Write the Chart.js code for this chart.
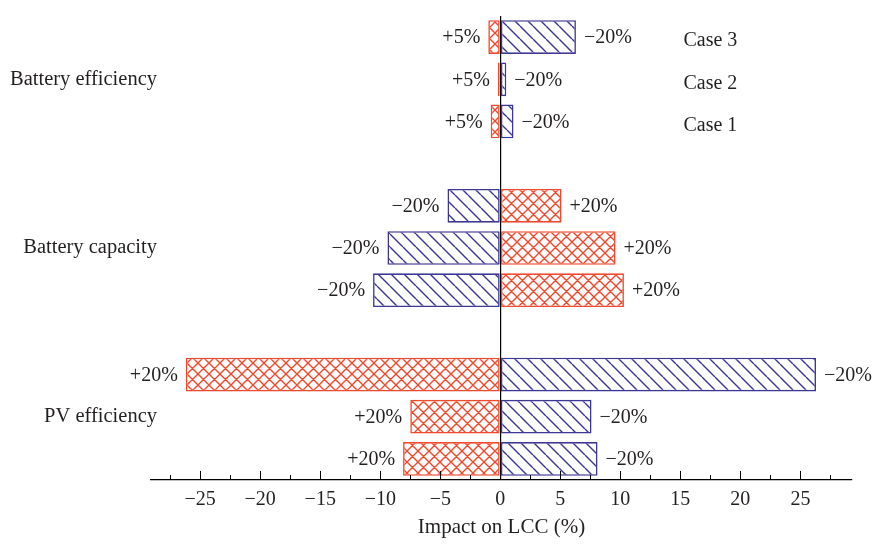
<!DOCTYPE html>
<html>
<head>
<meta charset="utf-8">
<script src="https://cdn.jsdelivr.net/npm/chart.js@4/dist/chart.umd.min.js"></script>
<style>
  html, body { margin: 0; padding: 0; background: #fff; }
  #wrap { width: 872px; height: 544px; position: relative; }
</style>
</head>
<body>
<div id="wrap"><canvas id="c" width="872" height="544"></canvas></div>
<script>
// Rows from top to bottom; empty strings are the spacer rows between groups.
const rowLabels = ['', 'Battery efficiency', '', '', '', 'Battery capacity', '', '', '', 'PV efficiency', ''];
const caseLabels = ['Case 3', 'Case 2', 'Case 1'];

// Impact on LCC (%) when the parameter goes up (red) or down (blue).
const increaseValues = [-1.0, -0.2, -0.8, null, 5.1, 9.6, 10.3, null, -26.2, -7.5, -8.1];
const decreaseValues = [6.3, 0.5, 1.1, null, -4.4, -9.4, -10.6, null, 26.3, 7.6, 8.1];
const increaseText = ['+5%', '+5%', '+5%', null, '+20%', '+20%', '+20%', null, '+20%', '+20%', '+20%'];
const decreaseText = ['\u221220%', '\u221220%', '\u221220%', null, '\u221220%', '\u221220%', '\u221220%', null, '\u221220%', '\u221220%', '\u221220%'];

const tickValues = [-25, -20, -15, -10, -5, 0, 5, 10, 15, 20, 25];
const minorTickValues = [-27.5, -22.5, -17.5, -12.5, -7.5, -2.5, 2.5, 7.5, 12.5, 17.5, 22.5, 27.5];

const RED = '#ef4a2e';
const BLUE = '#3c3694';
const TEXT = '#231f20';
const FONT = '"Liberation Serif", "DejaVu Serif", serif';
const FS = 20;

function makePattern(color, size, cross) {
  const t = document.createElement('canvas');
  t.width = size; t.height = size;
  const g = t.getContext('2d');
  g.fillStyle = '#fff';
  g.fillRect(0, 0, size, size);
  g.strokeStyle = color;
  g.lineWidth = 1.4;
  g.beginPath();
  for (let k = -1; k <= 1; k++) {
    g.moveTo(k * size, 0); g.lineTo(k * size + size, size);
    if (cross) { g.moveTo(k * size, size); g.lineTo(k * size + size, 0); }
  }
  g.stroke();
  return g.createPattern(t, 'repeat');
}

const ctx = document.getElementById('c').getContext('2d');
const redFill = makePattern(RED, 11, true);
const blueFill = makePattern(BLUE, 13, false);

// Inward-pointing major and minor ticks on the x axis.
const innerTicks = {
  id: 'innerTicks',
  afterDraw(chart) {
    const x = chart.scales.x;
    const y0 = chart.chartArea.bottom;
    const c = chart.ctx;
    c.save();
    c.strokeStyle = '#000';
    c.lineWidth = 1;
    c.beginPath();
    tickValues.forEach(v => { const px = Math.round(x.getPixelForValue(v)) + 0.5; c.moveTo(px, y0); c.lineTo(px, y0 - 9); });
    minorTickValues.forEach(v => { const px = Math.round(x.getPixelForValue(v)) + 0.5; c.moveTo(px, y0); c.lineTo(px, y0 - 5); });
    c.stroke();
    c.restore();
  }
};

// Percentage labels at the outer end of every bar, group names and case names.
const textLayer = {
  id: 'textLayer',
  afterDatasetsDraw(chart) {
    const c = chart.ctx;
    const xs = chart.scales.x, ys = chart.scales.y;
    c.save();
    c.font = FS + 'px ' + FONT;
    c.fillStyle = TEXT;
    c.textBaseline = 'middle';
    const texts = [increaseText, decreaseText];
    chart.data.datasets.forEach((ds, di) => {
      chart.getDatasetMeta(di).data.forEach((el, i) => {
        const v = ds.data[i];
        if (v === null || v === undefined) return;
        const label = texts[di][i];
        if (v < 0) { c.textAlign = 'right'; c.fillText(label, el.x - 8, el.y + 1); }
        else { c.textAlign = 'left'; c.fillText(label, el.x + 8, el.y + 1); }
      });
    });
    c.textAlign = 'center';
    caseLabels.forEach((lab, i) => {
      c.fillText(lab, xs.getPixelForValue(17.5), ys.getPixelForValue(i) + 4);
    });
    c.font = '20.5px ' + FONT;
    c.textAlign = 'right';
    rowLabels.forEach((lab, i) => {
      if (lab) c.fillText(lab, chart.chartArea.left + 6, ys.getPixelForValue(i));
    });
    c.restore();
  }
};

new Chart(ctx, {
  type: 'bar',
  data: {
    labels: rowLabels,
    datasets: [
      { label: '+', data: increaseValues, backgroundColor: redFill, borderColor: RED, borderWidth: 1.6, borderSkipped: false },
      { label: '\u2212', data: decreaseValues, backgroundColor: blueFill, borderColor: BLUE, borderWidth: 1.6, borderSkipped: false }
    ]
  },
  options: {
    indexAxis: 'y',
    responsive: false,
    animation: false,
    barPercentage: 0.8,
    categoryPercentage: 1.0,
    layout: { padding: { left: 151, right: 20, top: 16, bottom: 4 } },
    plugins: { legend: { display: false }, tooltip: { enabled: false } },
    scales: {
      y: { display: false, stacked: true },
      x: {
        stacked: true,
        min: -29.1,
        max: 29.3,
        afterBuildTicks: s => { s.ticks = tickValues.map(v => ({ value: v })); },
        afterFit: s => { s.height = 60; },
        grid: {
          drawTicks: false,
          tickLength: 0,
          color: c => (c.tick && c.tick.value === 0) ? '#000' : 'rgba(0,0,0,0)',
          lineWidth: 1.2
        },
        border: { display: true, color: '#000', width: 1.2 },
        ticks: {
          padding: 8,
          color: TEXT,
          font: { family: FONT, size: FS },
          maxRotation: 0,
          autoSkip: false,
          callback: v => v < 0 ? '\u2212' + Math.abs(v) : String(v)
        },
        title: {
          display: true,
          text: 'Impact on LCC (%)',
          color: TEXT,
          font: { family: FONT, size: 21 },
          padding: { top: 0, bottom: 0 }
        }
      }
    }
  },
  plugins: [innerTicks, textLayer]
});
</script>
</body>
</html>
